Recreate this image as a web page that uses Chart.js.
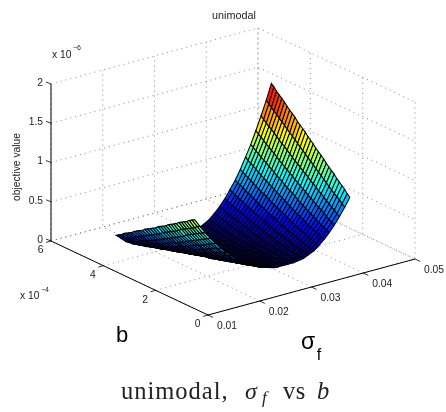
<!DOCTYPE html>
<html><head><meta charset="utf-8">
<script src="https://cdn.jsdelivr.net/npm/chart.js@4"></script>
<style>html,body{margin:0;padding:0;background:#fff}canvas{display:block}</style></head>
<body><canvas id="c" width="446" height="412"></canvas>
<script>
const sfTicks=[0.01,0.02,0.03,0.04,0.05];
const sfTickLabels=["0.01","0.02","0.03","0.04","0.05"];
const bTicks=[0,2e-4,4e-4,6e-4];
const bTickLabels=["0","2","4","6"];
const zTicks=[0,0.5e-6,1e-6,1.5e-6,2e-6];
const zTickLabels=["0","0.5","1","1.5","2"];
const sfValues=[0.015,0.016,0.017,0.018,0.019,0.02,0.021,0.022,0.023,0.024,0.025,0.026,0.027,0.028,0.029,0.03,0.031,0.032,0.033,0.034,0.035,0.036,0.037,0.038,0.039,0.04,0.041,0.042,0.043,0.044,0.045];
const bValues=[1.5e-4,1.6e-4,1.7e-4,1.8e-4,1.9e-4,2e-4,2.1e-4,2.2e-4,2.3e-4,2.4e-4,2.5e-4,2.6e-4,2.7e-4,2.8e-4,2.9e-4,3e-4,3.1e-4,3.2e-4,3.3e-4,3.4e-4,3.5e-4,3.6e-4,3.7e-4,3.8e-4,3.9e-4,4e-4,4.1e-4,4.2e-4,4.3e-4,4.4e-4,4.5e-4];
// objective value, in units of 1e-8: one row per sigma_f, one column per b
const zTable=[
[89,87,85,82,80,78,76,73,71,69,67,64,62,60,58,55,53,51,49,47,44,42,40,38,35,33,31,29,26,24,22],
[79,77,74,72,70,68,66,64,61,59,57,55,53,51,49,46,44,42,40,38,36,34,32,30,28,26,24,22,20,18,16],
[69,67,65,63,61,59,57,55,52,50,48,46,44,42,40,38,36,34,32,30,28,26,24,23,21,19,17,15,14,12,10],
[60,58,56,54,52,50,48,46,44,42,40,38,36,34,33,31,29,27,25,23,22,20,18,16,15,13,12,10,9,7,6],
[52,50,48,46,44,42,40,39,37,35,33,31,29,28,26,24,22,21,19,17,16,14,13,11,10,9,7,6,5,4,3],
[44,42,41,39,37,35,33,32,30,28,26,25,23,21,20,18,17,15,14,12,11,10,8,7,6,5,4,3,2,2,1],
[37,35,34,32,30,29,27,25,24,22,20,19,17,16,15,13,12,11,9,8,7,6,5,4,3,2,2,1,1,0,0],
[31,29,28,26,24,23,21,20,18,17,15,14,13,11,10,9,8,7,6,5,4,3,2,2,1,1,0,0,0,0,0],
[25,23,22,20,19,18,16,15,13,12,11,10,9,8,7,6,5,4,3,2,2,1,1,0,0,0,0,0,0,0,0],
[20,18,17,16,14,13,12,11,9,8,7,6,5,5,4,3,2,2,1,1,0,0,0,0,0,0,0,0,0,0,0],
[15,14,13,11,10,9,8,7,6,5,4,4,3,2,2,1,1,0,0,0,0,0,0,0,0,0,0,0,0,0,0],
[11,10,9,8,7,6,5,4,4,3,2,2,1,1,0,0,0,0,0,0,0,0,0,0,0,0,0,0,0,0,0],
[8,7,6,5,4,4,3,2,2,1,1,0,0,0,0,0,0,0,0,0,0,0,0,0,0,0,0,0,0,0,0],
[5,4,3,3,2,2,1,1,0,0,0,0,0,0,0,0,0,0,0,0,0,0,0,0,0,0,0,0,0,0,0],
[3,2,2,1,1,1,0,0,0,0,0,0,0,0,0,0,0,0,0,0,0,0,0,0,0,0,0,0,0,0,0],
[1,1,1,0,0,0,0,0,0,0,0,0,0,0,0,0,0,0,0,0,0,0,0,0,0,0,0,0,0,0,1],
[0,0,0,0,0,0,0,0,0,0,0,0,0,0,0,0,0,0,0,0,0,0,0,0,1,1,1,1,2,2,3],
[0,0,0,0,0,0,0,0,0,0,0,0,0,0,0,0,0,0,1,1,1,1,2,2,3,3,3,4,5,5,6],
[0,0,0,0,0,0,0,0,0,0,0,0,1,1,1,1,2,2,3,3,3,4,4,5,6,6,7,8,9,9,10],
[0,0,0,0,0,0,1,1,1,1,2,2,2,3,3,4,4,5,6,6,7,8,8,9,10,11,12,13,14,15,16],
[1,1,1,1,2,2,2,3,3,4,4,5,5,6,7,8,8,9,10,11,12,13,14,15,16,17,18,19,20,22,23],
[2,3,3,3,4,5,5,6,7,7,8,9,10,11,12,13,14,15,16,17,18,19,20,22,23,24,25,27,28,30,31],
[5,5,6,7,8,8,9,10,11,12,13,14,15,16,18,19,20,21,23,24,25,27,28,30,31,33,34,36,37,39,41],
[8,9,10,11,12,13,15,16,17,18,19,21,22,23,25,26,28,29,31,32,34,35,37,39,41,42,44,46,48,49,51],
[13,14,16,17,18,20,21,22,24,25,27,28,30,32,33,35,37,38,40,42,44,46,47,49,51,53,55,57,59,61,63],
[19,21,22,24,25,27,28,30,32,34,35,37,39,41,43,45,47,49,51,53,55,57,59,61,63,65,68,70,72,74,77],
[26,28,30,31,33,35,37,39,41,43,45,47,49,52,54,56,58,60,63,65,67,70,72,74,77,79,81,84,86,89,91],
[34,36,38,40,43,45,47,49,52,54,56,59,61,63,66,68,71,73,76,78,81,83,86,89,91,94,96,99,102,104,107],
[43,45,48,50,53,55,58,61,63,66,69,71,74,77,79,82,85,87,90,93,96,99,101,104,107,110,113,115,118,121,124],
[53,56,59,62,64,67,70,73,76,79,82,85,88,91,94,97,100,103,106,109,112,115,118,121,124,127,130,133,136,139,142],
[64,67,71,74,77,80,84,87,90,93,97,100,103,106,110,113,116,120,123,126,129,133,136,139,142,146,149,152,155,159,162]
];
const zUnit=1e-8;
const P={x0:208,y0:315,ux:207,uy:-56,vx:-157,vy:-74,zh:157};
function project(sf,b,z){const a=(sf-0.01)/0.04,c=b/6e-4;return{x:P.x0+P.ux*a+P.vx*c,y:P.y0+P.uy*a+P.vy*c-z/2e-6*P.zh};}
function jet(v){const f=t=>Math.round(255*Math.max(0,Math.min(1,t)));
 v=Math.floor(Math.min(.9999,Math.max(0,v))*64)/63;
 return `rgb(${f(1.5-Math.abs(4*v-3))},${f(1.5-Math.abs(4*v-2))},${f(1.5-Math.abs(4*v-1))})`;}
const ds=[];
function line(pts,opt){ds.push(Object.assign({data:pts,showLine:true,pointRadius:0,fill:false,borderColor:'#000',borderWidth:1},opt));}
const dot={borderColor:'#555',borderWidth:.7,borderDash:[1,4]};
const sfMin=0.01,sfMax=0.05,bMin=0,bMax=6e-4,zMax=2e-6;
for(const z of zTicks){line([project(sfMin,bMax,z),project(sfMax,bMax,z),project(sfMax,bMin,z)],dot);}
for(const s of sfTicks){line([project(s,bMin,0),project(s,bMax,0),project(s,bMax,zMax)],dot);}
for(const b of bTicks){line([project(sfMin,b,0),project(sfMax,b,0),project(sfMax,b,zMax)],dot);}
let zPeak=0;for(const r of zTable)for(const v of r)zPeak=Math.max(zPeak,v);
for(let i=sfValues.length-2;i>=0;i--)for(let j=bValues.length-2;j>=0;j--){
 const q=[[i,j],[i+1,j],[i+1,j+1],[i,j+1],[i,j]].map(([m,n])=>project(sfValues[m],bValues[n],zTable[m][n]*zUnit));
 ds.push({data:q,showLine:true,pointRadius:0,fill:'shape',backgroundColor:jet(zTable[i][j]/zPeak),borderColor:'#000',borderWidth:1.05});
}
const solid={borderColor:'#000',borderWidth:1};
line([project(sfMin,bMax,0),project(sfMin,bMax,zMax)],solid);
line([project(sfMin,bMax,0),project(sfMin,bMin,0),project(sfMax,bMin,0)],{borderColor:'#000',borderWidth:1});
function off(p,dx,dy){return{x:p.x+dx,y:p.y+dy};}
for(const z of zTicks){const p=project(sfMin,bMax,z);line([p,off(p,-5,-2)],{borderWidth:.8});}
for(const b of bTicks){const p=project(sfMin,b,0);line([p,off(p,-5,1.4)],{borderWidth:.8});}
for(const s of sfTicks){const p=project(s,bMin,0);line([p,off(p,5,2.4)],{borderWidth:.8});}
ds.reverse();
const sans='"Liberation Sans"',serif='"Liberation Serif"';
const texts=[["unimodal",234,16,10.8,'center',sans,'#222'],["x 10",52,55,10.3,'left',sans,'#222'],["−6",73,48,7,'left',sans,'#222'],["x 10",20,296,10.3,'left',sans,'#222'],["−4",41,290,7,'left',sans,'#222'],["b",122,336,22,'center',sans,'#000'],["σ",308,343,23,'center',sans,'#000'],["f",319,356,16,'center',sans,'#000']];
const plugin={id:'txt',afterDraw(ch){const c=ch.ctx,xs=ch.scales.x,ys=ch.scales.y;c.save();c.textBaseline='middle';
 const put=(t,x,y,size,al,fam,col,st)=>{c.font=(st||'')+' '+size+'px '+fam;c.fillStyle=col;c.textAlign=al;c.fillText(t,xs.getPixelForValue(x),ys.getPixelForValue(y));};
 texts.forEach(a=>put(...a));
 zTicks.forEach((z,i)=>{const p=project(sfMin,bMax,z);put(zTickLabels[i],43,p.y-1,10.3,'right',sans,'#222');});
 bTicks.forEach((b,i)=>{const p=project(sfMin,b,0);put(bTickLabels[i],p.x-10.5,p.y+9.5,10.3,'center',sans,'#222');});
 sfTicks.forEach((s,i)=>{const p=project(s,bMin,0);put(sfTickLabels[i],p.x+19,p.y+11,10.3,'center',sans,'#222');});
 c.save();c.translate(xs.getPixelForValue(17),ys.getPixelForValue(167));c.rotate(-Math.PI/2);c.font='10.3px '+sans;c.fillStyle='#222';c.textAlign='center';c.fillText("objective value",0,0);c.restore();
 c.textBaseline='alphabetic';
 c.letterSpacing='1px';
 put("unimodal,",121,399,24.5,'left',serif,'#222');
 c.letterSpacing='0px';
 put("σ",245,399,24,'left',serif,'#222','italic');
 put("f",262,403,17,'left',serif,'#222','italic');
 c.letterSpacing='0.6px';
 put("vs",283,399,24.5,'left',serif,'#222');
 c.letterSpacing='0px';
 put("b",317,399,24.5,'left',serif,'#222','italic');
 c.restore();}};
new Chart(document.getElementById('c'),{type:'scatter',data:{datasets:ds},plugins:[plugin],options:{responsive:false,animation:false,events:[],layout:{padding:0},
 plugins:{legend:{display:false},tooltip:{enabled:false},title:{display:false}},
 scales:{x:{type:'linear',min:0,max:446,display:false},y:{type:'linear',min:0,max:412,reverse:true,display:false}}}});
</script></body></html>
